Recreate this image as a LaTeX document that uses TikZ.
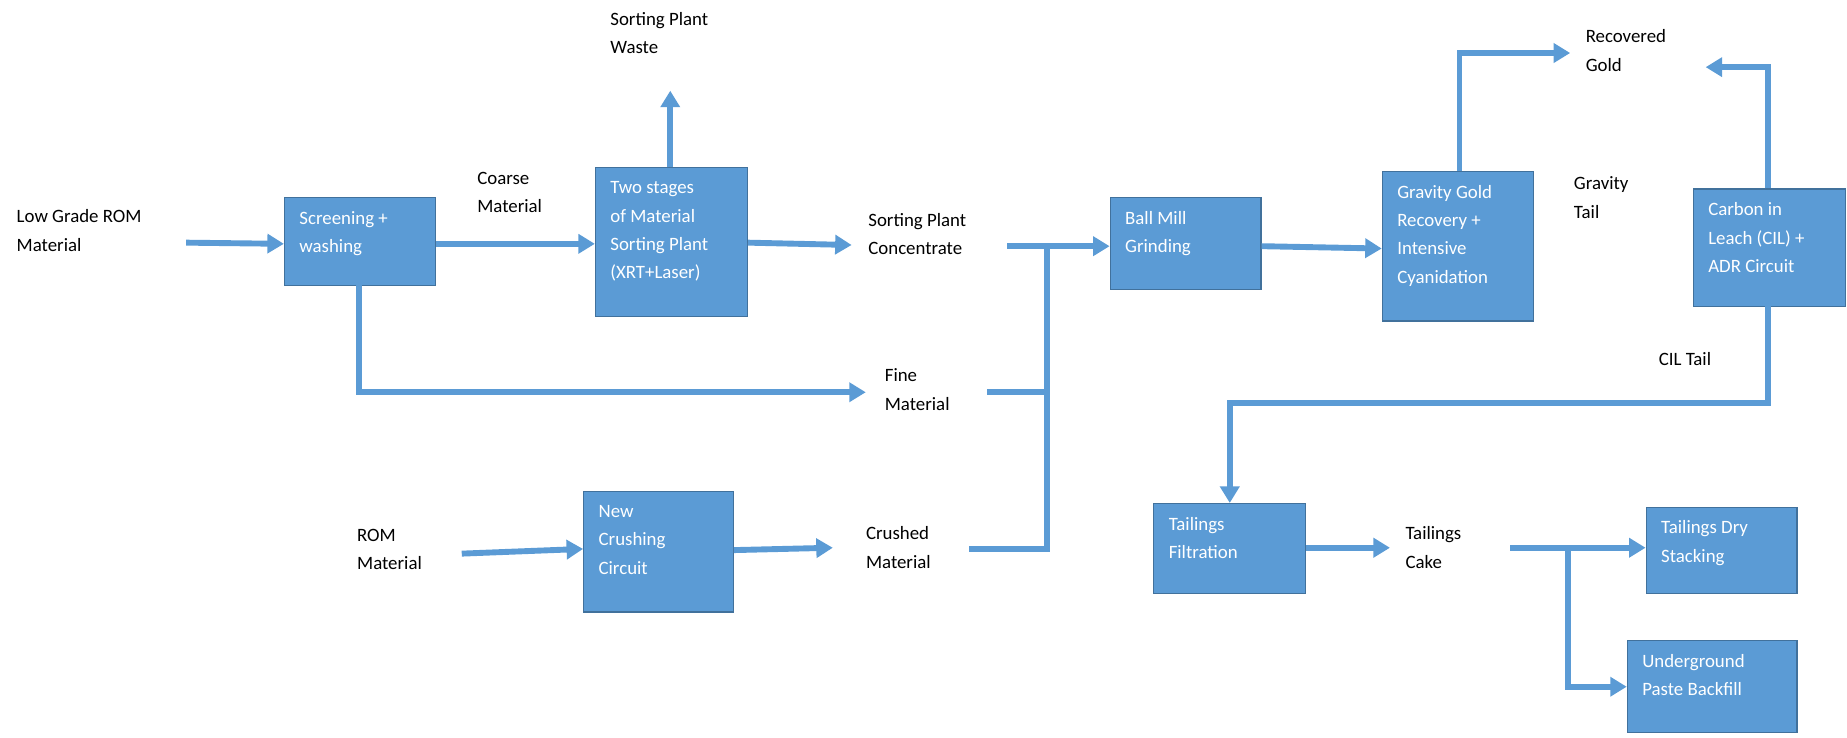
\documentclass[tikz,border=0pt]{standalone}
\usepackage{fontspec}
\setmainfont{Carlito}
\usetikzlibrary{arrows.meta}
\definecolor{boxfill}{HTML}{5B9BD5}
\definecolor{boxline}{HTML}{41719C}
\begin{document}
\begin{tikzpicture}[x=1pt,y=-1pt,
  font=\fontsize{16}{24}\selectfont,
  box/.style={draw=boxline,line width=1pt,fill=boxfill,text=white,anchor=north west,inner sep=0pt,align=left},
  lbl/.style={anchor=north west,inner sep=0pt,align=left},
  flow/.style={draw=boxfill,line width=5pt,-{Triangle[length=14pt,width=16pt]}},
  flowline/.style={draw=boxfill,line width=5pt}]
\useasboundingbox (0,0) rectangle (1568,626);
\newcommand{\bx}[6]{\node[box,minimum width=#4-#2,minimum height=#5-#3] (#1) at (#2,#3) {};
  \node[anchor=north west,text=white,align=left,inner sep=0pt] at (#2+13,#3+12) {#6};}
\bx{scr}{241}{167}{369}{242}{Screening +\\washing}
\bx{sort}{505}{142}{634}{268}{Two stages\\of Material\\Sorting Plant\\(XRT+Laser)}
\bx{ball}{942}{167}{1070}{245}{Ball Mill\\Grinding}
\bx{grav}{1173}{145}{1301}{272}{Gravity Gold\\Recovery +\\Intensive\\Cyanidation}
\bx{cil}{1437}{160}{1566}{260}{Carbon in\\Leach (CIL) +\\ADR Circuit}
\bx{crush}{495}{417}{622}{519}{New\\Crushing\\Circuit}
\bx{filt}{979}{427}{1108}{503}{Tailings\\Filtration}
\bx{dry}{1397}{430}{1525}{503}{Tailings Dry\\Stacking}
\bx{ug}{1381}{543}{1525}{621}{Underground\\Paste Backfill}

\node[lbl] (lg) at (14,178) {Low Grade ROM\\Material};
\node[lbl] (coarse) at (405,146) {Coarse\\Material};
\node[lbl] (waste) at (518,10) {Sorting Plant\\Waste};
\node[lbl] (conc) at (737,181) {Sorting Plant\\Concentrate};
\node[lbl] (fine) at (751,313) {Fine\\Material};
\node[lbl] (rom) at (303,449) {ROM\\Material};
\node[lbl] (crushed) at (735,447) {Crushed\\Material};
\node[lbl] (gold) at (1346,25) {Recovered\\Gold};
\node[lbl] (gtail) at (1336,150) {Gravity\\Tail};
\node[lbl] (ctail) at (1408,299) {CIL Tail};
\node[lbl] (cake) at (1193,447) {Tailings\\Cake};

\coordinate (j1) at (889,209);
\coordinate (j2) at (889,333);
\coordinate (j3) at (889,466);
\draw[flow] (158,206) -- (scr.west|-0,207);
\draw[flow] (scr.east|-0,207) -- (sort.west|-0,207);
\draw[flow] (569,142) -- (569,77);
\draw[flow] (sort.east|-0,206) -- (723,208);
\draw[flow] (305,242) -- (305,333) -- (735,333);
\draw[flow] (855,209) -- (ball.west|-0,209);
\draw[flowline] (838,333) -- (j2);
\draw[flowline] (823,466) -- (j3) -- (889,206);
\draw[flow] (392,470) -- (crush.west|-0,466);
\draw[flow] (crush.east|-0,467) -- (707,465);
\draw[flow] (ball.east|-0,209) -- (grav.west|-0,211);
\draw[flow] (1239,145) -- (1239,45) -- (1333,45);
\draw[flow] (1501,160) -- (1501,57) -- (1448,57);
\draw[flow] (1501,260) -- (1501,342) -- (1044,342) -- (1044,427);
\draw[flow] (filt.east|-0,465) -- (1180,465);
\draw[flow] (1282,465) -- (dry.west|-0,465);
\draw[flow] (1331,465) -- (1331,583) -- (ug.west|-0,583);
\end{tikzpicture}
\end{document}
